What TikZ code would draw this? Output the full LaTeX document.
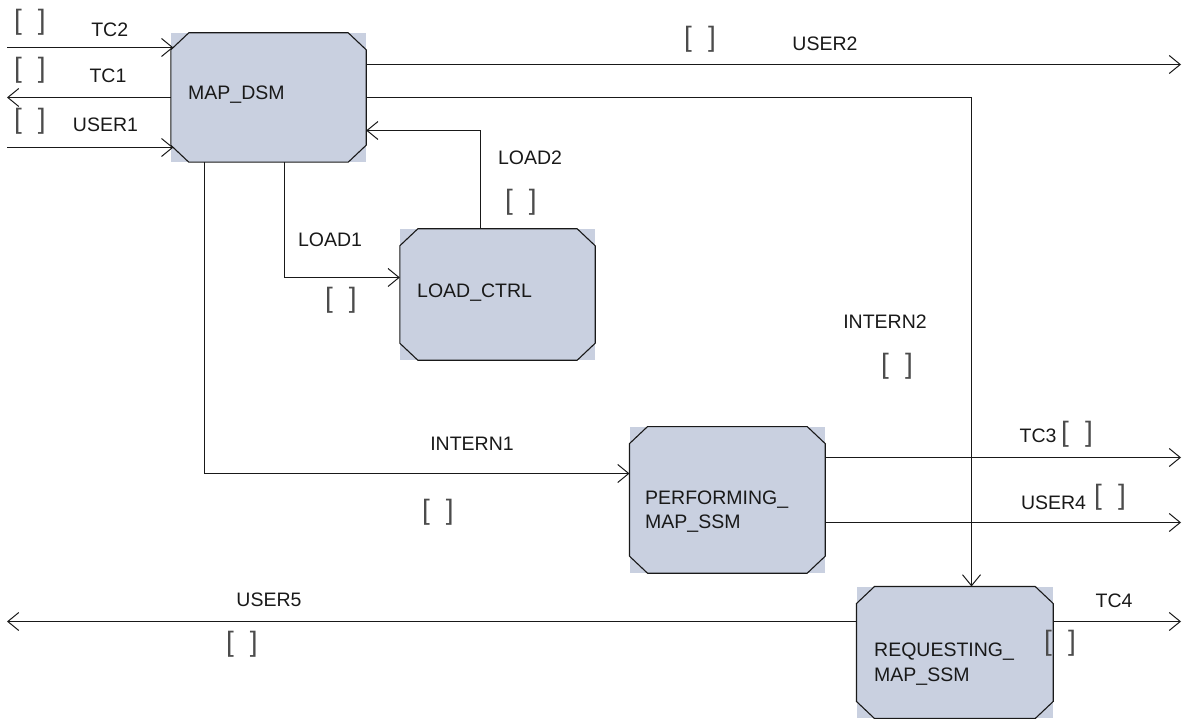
\documentclass[tikz,border=0pt]{standalone}
\usepackage{fontspec}
\setmainfont{Liberation Sans}
\usetikzlibrary{arrows.meta}
\definecolor{blkfill}{RGB}{201,208,224}
\newcommand{\octframe}[1]{%
  \draw[edge] ([xshift=18pt]#1.north west) -- ([xshift=-18pt]#1.north east)
    -- ([yshift=-17pt]#1.north east) -- ([yshift=17pt]#1.south east)
    -- ([xshift=-18pt]#1.south east) -- ([xshift=18pt]#1.south west)
    -- ([yshift=17pt]#1.south west) -- ([yshift=-17pt]#1.north west) -- cycle;}
\begin{document}
\begin{tikzpicture}[x=1pt,y=-1pt,
  blk/.style={fill=blkfill, inner sep=0pt},
  edge/.style={draw=black!90, line width=1.1pt, line join=miter},
  sig/.style={draw=black!90, line width=1pt},
  arr/.style={sig, -{Straight Barb[length=11pt,width=18pt]}},
  lbl/.style={font=\fontsize{19.5}{23}\selectfont, inner sep=0pt, text=black!90},
  btxt/.style={font=\fontsize{19.5}{24.5}\selectfont, inner sep=0pt, align=left, anchor=west, text=black!90},
  brk/.style={font=\fontsize{28}{28}\selectfont, inner sep=0pt, text=black!70}]
\useasboundingbox (0,0) rectangle (1183,719);

% blocks
\node[blk, minimum width=195pt, minimum height=129pt] (map) at (268.5,97.5) {};
\node[blk, minimum width=195pt, minimum height=131pt] (load) at (497.5,294.5) {};
\node[blk, minimum width=195.3pt, minimum height=146.2pt] (perf) at (727.35,499.9) {};
\node[blk, minimum width=196.3pt, minimum height=131.6pt] (req) at (954.85,652.5) {};
\octframe{map}
\octframe{load}
\octframe{perf}
\octframe{req}

\node[btxt] (mapt) at (188,95) {MAP\_DSM};
\node[btxt] (loadt) at (417,293) {LOAD\_CTRL};
\node[btxt] (perft) at (645,511.6) {PERFORMING\_\\MAP\_SSM};
\node[btxt] (reqt) at (874,664.2) {REQUESTING\_\\MAP\_SSM};

% free ends
\coordinate (tc2o) at (7,47.5);
\coordinate (tc1o) at (7,97.5);
\coordinate (u1o) at (7,147.5);
\coordinate (u2o) at (1181,64.5);
\coordinate (tc3o) at (1181,457.5);
\coordinate (u4o) at (1181,522.5);
\coordinate (u5o) at (7,621.5);
\coordinate (tc4o) at (1181,621.5);

% connectors
\draw[arr] (tc2o) -- ([xshift=2.5pt]tc2o -| map.west);
\draw[arr] (map.west) -- (tc1o);
\draw[arr] (u1o) -- ([xshift=2.5pt]u1o -| map.west);
\draw[arr] (u2o -| map.east) -- (u2o);
\draw[arr] (map.east |- 0,97.5) -| (req.north -| 971.5,0);
\draw[arr] (load.north -| 480.5,0) |- (map.east |- 0,130.5);
\draw[arr] (map.south -| 284.5,0) |- (load.west |- 0,277.5);
\draw[arr] (map.south -| 204.5,0) |- (perf.west |- 0,473.5);
\draw[arr] (tc3o -| perf.east) -- (tc3o);
\draw[arr] (u4o -| perf.east) -- (u4o);
\draw[arr] (u5o -| req.west) -- (u5o);
\draw[arr] (tc4o -| req.east) -- (tc4o);

% labels
\node[lbl] (ltc2) at (109.7,30) {TC2};
\node[lbl] (ltc1) at (108,76) {TC1};
\node[lbl] (lu1) at (105.5,124.5) {USER1};
\node[lbl] (lu2) at (825,44) {USER2};
\node[lbl] (ll2) at (530,158) {LOAD2};
\node[lbl] (ll1) at (330,240) {LOAD1};
\node[lbl] (li2) at (885,322) {INTERN2};
\node[lbl] (li1) at (472,444) {INTERN1};
\node[lbl] (ltc3) at (1038,436) {TC3};
\node[lbl] (lu4) at (1053.5,502.7) {USER4};
\node[lbl] (lu5) at (269,600) {USER5};
\node[lbl] (ltc4) at (1114,601) {TC4};

% signal-list brackets
\node[brk] (b1) at (30,22) {[\hspace{16pt}]};
\node[brk] (b2) at (30,70) {[\hspace{16pt}]};
\node[brk] (b3) at (30,121) {[\hspace{16pt}]};
\node[brk] (b4) at (700,39) {[\hspace{16pt}]};
\node[brk] (b5) at (521,202) {[\hspace{16pt}]};
\node[brk] (b6) at (341,300) {[\hspace{16pt}]};
\node[brk] (b7) at (897,366) {[\hspace{16pt}]};
\node[brk] (b8) at (438,512) {[\hspace{16pt}]};
\node[brk] (b9) at (1077,434) {[\hspace{16pt}]};
\node[brk] (b10) at (1110,497) {[\hspace{16pt}]};
\node[brk] (b11) at (242,644.5) {[\hspace{16pt}]};
\node[brk] (b12) at (1060,643) {[\hspace{16pt}]};
\end{tikzpicture}
\end{document}
